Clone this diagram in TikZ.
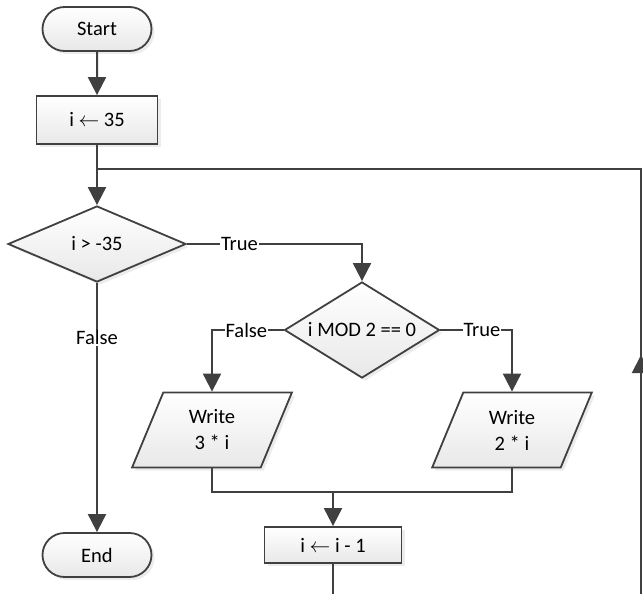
\documentclass[tikz,border=0pt]{standalone}
\usepackage{fontspec}
\setmainfont{Carlito}
\usetikzlibrary{arrows.meta, positioning, shapes.geometric, shapes.misc, shadows}

\begin{document}
\begin{tikzpicture}[
    x=1pt, y=-1pt,
    font=\fontsize{20.5}{26}\selectfont,
    flowline/.style={draw=black!75, line width=2pt},
    arrow/.style={flowline, -{Triangle[length=18pt, width=18pt]}},
    base/.style={draw=black!75, line width=1.8pt, top color=white, bottom color=black!9,
                 drop shadow={opacity=0.15, shadow xshift=3pt, shadow yshift=-3pt},
                 align=center, inner sep=2pt},
    term/.style={base, rounded rectangle, minimum width=113pt, minimum height=44pt},
    procbox/.style={base, rectangle, minimum width=121pt, minimum height=48pt},
    decision/.style={base, diamond, aspect=2},
    iobox/.style={base, trapezium, trapezium left angle=70, trapezium right angle=110,
                  trapezium stretches=true, minimum width=160pt, minimum height=75pt},
    lbl/.style={fill=white, inner sep=1pt}
  ]
    \useasboundingbox (0,0) rectangle (643,594);
    \clip (0,0) rectangle (643,594);

    \node[term] (start) at (97,29) {Start};
    \node[procbox] (init) at (97,120) {i $\leftarrow$ 35};
    \node[decision, minimum width=178pt, minimum height=76pt] (cond) at (97,244) {i > -35};
    \node[decision, minimum width=155pt, minimum height=96pt] (even) at (362,330) {i MOD 2 == 0};
    \node[iobox] (odd) at (212,430) {Write\\3 * i};
    \node[iobox] (evn) at (512,430) {Write\\2 * i};
    \node[procbox, minimum width=137pt, minimum height=36pt] (dec) at (333,545) {i $\leftarrow$ i - 1};
    \node[term] (end) at (97,555) {End};

    \coordinate (join) at (97,169);
    \coordinate (merge) at (333,492);
    \coordinate (loopbot) at (333,594.8);
    \coordinate (loopcorner) at (641,594.8);
    \coordinate (looparrow) at (641,355);
    \coordinate (looptop) at (641,169);

    \draw[arrow] (start) -- (init);
    \draw[flowline] (init) -- (join);
    \draw[arrow] (join) -- (cond);
    \draw[arrow] (cond.east) -| node[lbl, pos=0.15] {True} (even.north);
    \draw[arrow] (cond.south) -- node[lbl, pos=0.22] {False} (end.north);
    \draw[arrow] (even.west) -| node[lbl, pos=0.26] {False} (odd.north);
    \draw[arrow] (even.east) -| node[lbl, pos=0.29] {True} (evn.north);
    \draw[flowline] (odd.south) |- (merge);
    \draw[flowline] (evn.south) |- (merge);
    \draw[arrow] (merge) -- (dec);

    % loop back
    \draw[flowline] (dec) -- (loopbot) -- (loopcorner) -- (looptop) -- (join);
    \draw[arrow] (loopcorner) -- (looparrow);
  \end{tikzpicture}
\end{document}
